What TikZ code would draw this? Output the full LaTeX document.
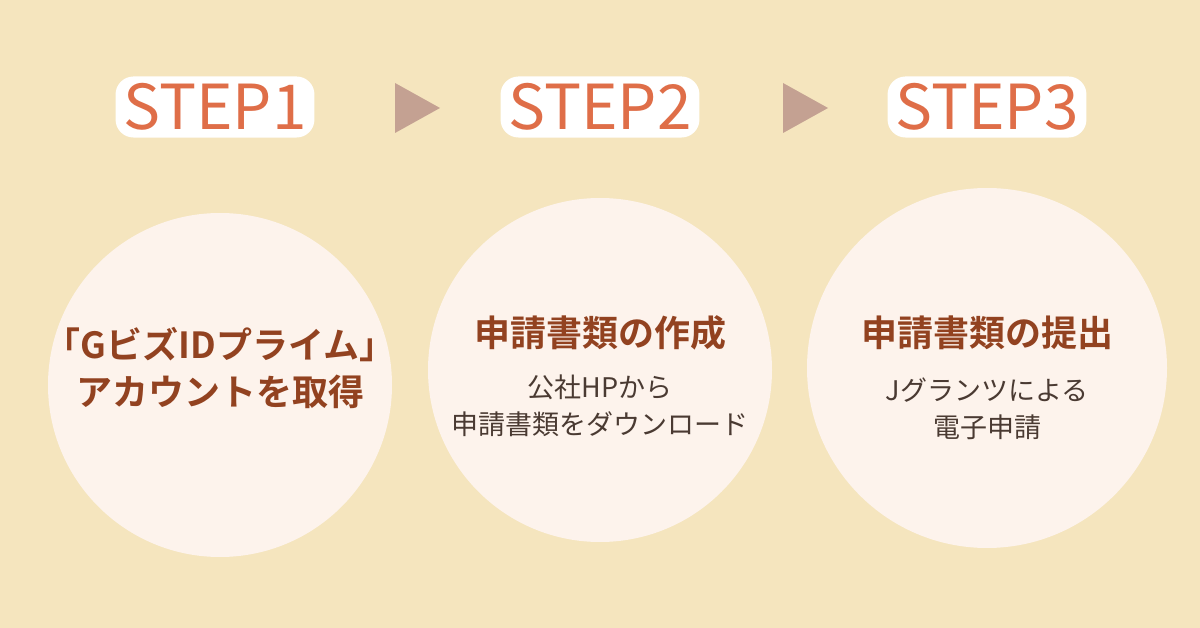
\documentclass[tikz,border=0pt]{standalone}
\usepackage{fontspec}
\setmainfont{Noto Sans CJK JP}
\newfontfamily\jpb{Noto Sans CJK JP Bold}
\definecolor{bg}{HTML}{F5E5BE}
\definecolor{circ}{HTML}{FDF3EC}
\definecolor{steptxt}{HTML}{DF6E48}
\definecolor{tri}{HTML}{C4A192}
\definecolor{brown}{HTML}{924220}
\definecolor{gry}{HTML}{4A3A32}
\begin{document}
\begin{tikzpicture}[x=1pt,y=-1pt,
  circ/.style={circle,fill=circ,minimum size=344pt,inner sep=0},
  steplbl/.style={font=\fontsize{62}{62}\selectfont,text=steptxt,fill=white,rounded corners=18pt,inner xsep=8pt,inner ysep=7pt},
  big/.style={font=\jpb\fontsize{36}{47}\selectfont,text=brown,align=center},
  small/.style={font=\fontsize{27}{37}\selectfont,text=gry,align=center}]
\fill[bg] (0,0) rectangle (1200,628);
\useasboundingbox (0,0) rectangle (1200,628);
\node[circ] (c1) at (220,385) {};
\node[circ] (c2) at (600,370) {};
\node[circ,minimum size=360pt] (c3) at (987,368) {};
\node[steplbl] (s1) at (215,107) {STEP1};
\node[steplbl] (s2) at (600,107) {STEP2};
\node[steplbl] (s3) at (987,107) {STEP3};
\fill[tri] (395,83) -- (440,108) -- (395,133) -- cycle;
\fill[tri] (783,83) -- (828,108) -- (783,133) -- cycle;
\node[big] (t1) at (220,368) {「GビズIDプライム」\\アカウントを取得};
\node[big] (t2) at (600,333) {申請書類の作成};
\node[small] (u2) at (600,406) {公社HPから\\申請書類をダウンロード};
\node[big] (t3) at (987,333) {申請書類の提出};
\node[small] (u3) at (987,409) {Jグランツによる\\電子申請};
\end{tikzpicture}
\end{document}
